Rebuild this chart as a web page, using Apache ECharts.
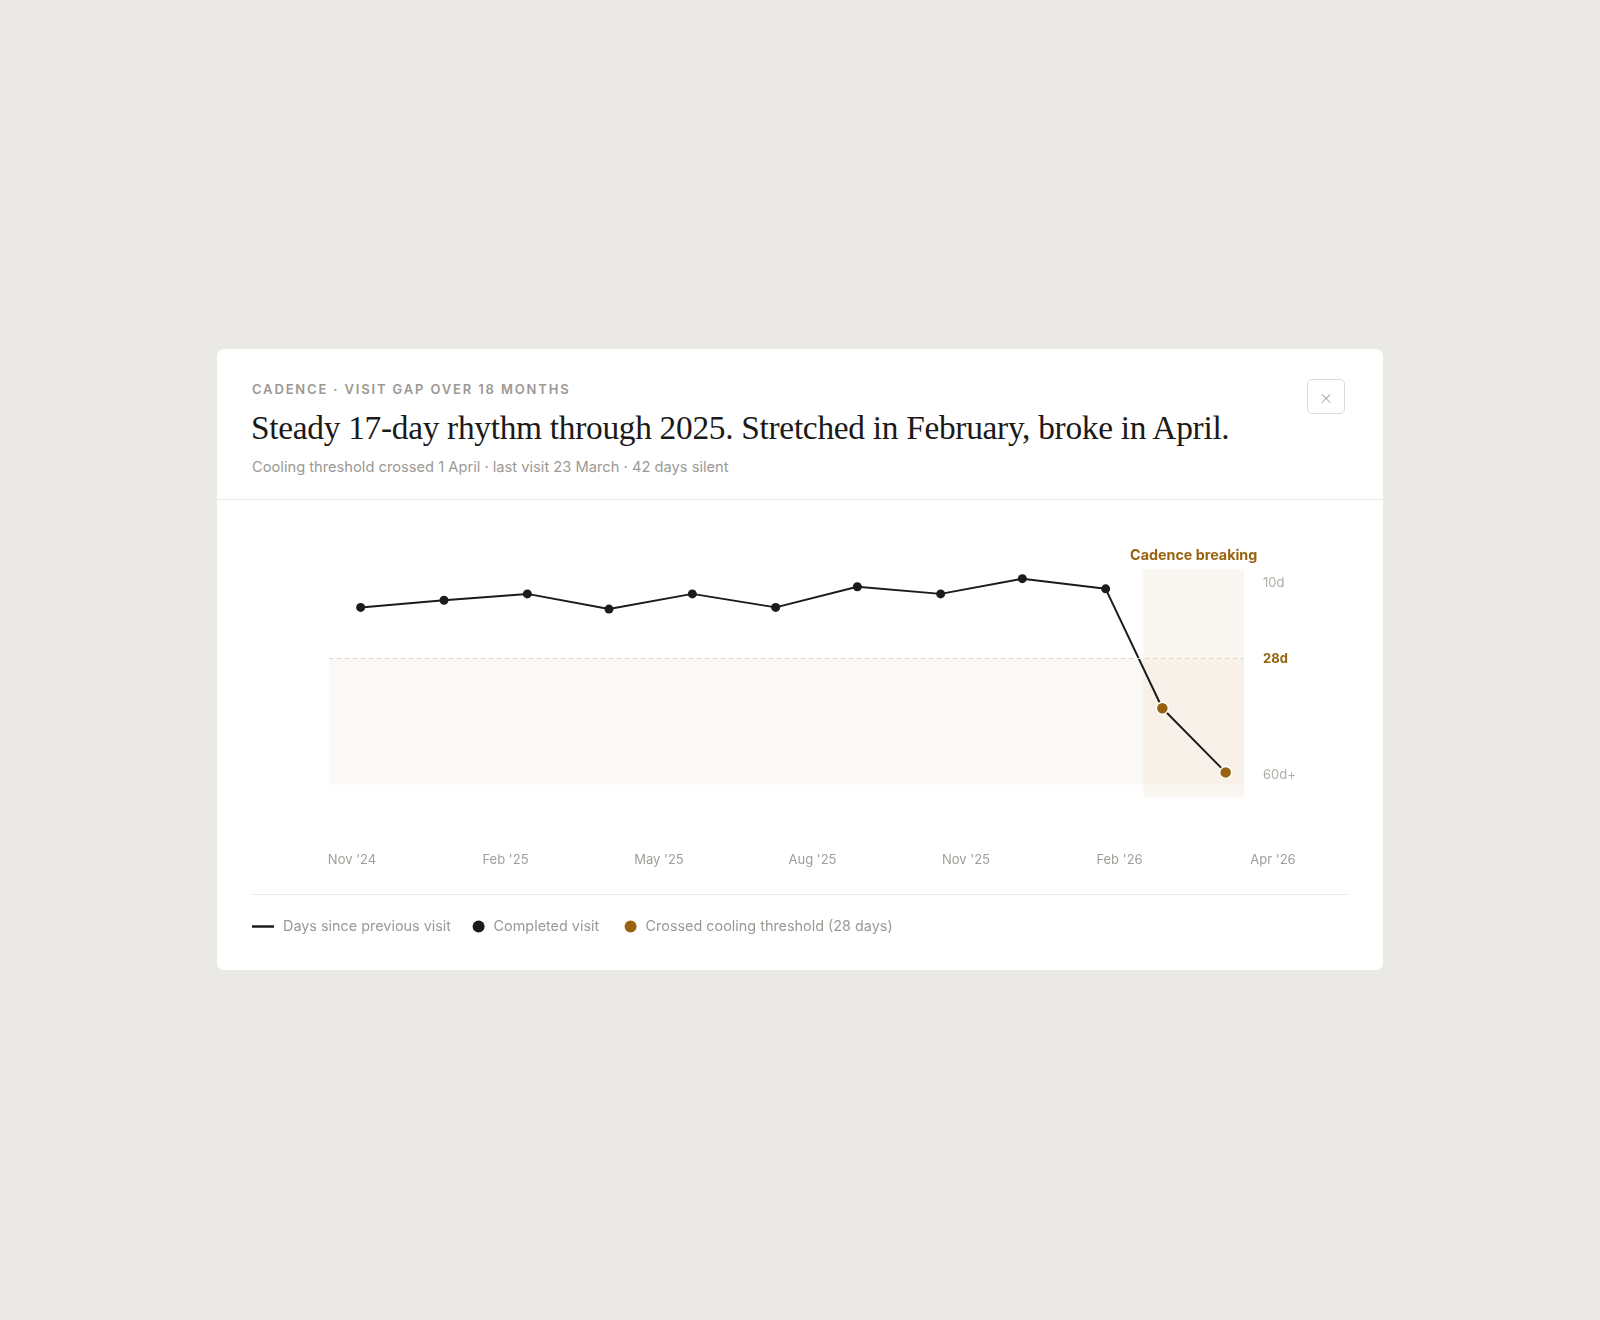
<!DOCTYPE html>
<html>
<head>
<meta charset="utf-8">
<script src="https://cdn.jsdelivr.net/npm/echarts@6/dist/echarts.min.js"></script>
<style>
html,body{margin:0;padding:0;background:#ebe9e6;width:1600px;height:1320px;overflow:hidden;font-family:Inter,'Noto Sans',sans-serif;}
.card{position:absolute;left:217px;top:349px;width:1166px;height:621px;background:#fff;border-radius:7px;}
.eyebrow{position:absolute;left:252px;top:381px;font-size:13px;line-height:16px;font-weight:600;letter-spacing:1.85px;color:#9c9994;white-space:nowrap;}
.title{position:absolute;left:251px;top:408px;font-family:'Liberation Serif',serif;font-size:33.4px;line-height:40px;color:#1b1a18;white-space:nowrap;letter-spacing:-0.3px;}
.sub{position:absolute;left:252px;top:456.5px;font-size:14.7px;line-height:20px;color:#9c9994;white-space:nowrap;}
.hr1{position:absolute;left:217px;top:499px;width:1166px;height:1px;background:#e9e7e3;}
.hr2{position:absolute;left:252px;top:894px;width:1096px;height:1px;background:#ebe9e5;}
.close{position:absolute;left:1307px;top:379px;width:36px;height:33px;border:1px solid #dfdcd7;border-radius:5px;color:#a9a6a1;font-size:21px;line-height:33px;text-align:center;font-weight:200;}
#chart{position:absolute;left:0;top:0;width:1600px;height:1320px;}
</style>
</head>
<body>
<div class="card"></div>
<div class="eyebrow">CADENCE · VISIT GAP OVER 18 MONTHS</div>
<div class="title">Steady 17-day rhythm through 2025. Stretched in February, broke in April.</div>
<div class="sub">Cooling threshold crossed 1 April · last visit 23 March · 42 days silent</div>
<div class="close">×</div>
<div class="hr1"></div>
<div class="hr2"></div>
<div id="chart"></div>
<script>
// ---- data ----
const visitDay = [19, 69, 119, 168, 218, 268, 317, 367, 416, 466, 500, 538];
const gapDays = [16, 14.3, 12.8, 16.4, 12.8, 16, 11.1, 12.8, 9.2, 11.6, 39.9, 55.1];
const thresholdDays = 28;
const xTickLabels = ["Nov '24", "Feb '25", "May '25", "Aug '25", "Nov '25", "Feb '26", "Apr '26"];
const yTickValues = [10, 28, 55.5];
const yTickLabels = ['10d', '28d', '60d+'];
const axisStartDay = 0;
const axisEndDay = 549;
const breakStartDay = 488.6;
const bandBottomDays = 58;
const yMin = 7, yMax = 61;

const INK = '#1c1b19';
const GOLD = '#98620f';
const MUTED = '#a19e99';
const FONT = 'Inter';

const linePts = visitDay.map((d, i) => [d, gapDays[i]]);
const okPts = linePts.filter(p => p[1] <= thresholdDays);
const crossedPts = linePts.filter(p => p[1] > thresholdDays);

const chart = echarts.init(document.getElementById('chart'), null, {renderer: 'canvas'});
const legendText = {color: '#9c9994', fontSize: 14.4, fontFamily: FONT, padding: [0, 0, 0, 4]};
const legendBase = {selectedMode: false, padding: 0, textStyle: legendText, itemStyle: {borderWidth: 0, opacity: 1}};
chart.setOption({
  animation: false,
  grid: [
    {left: 329, right: 356, top: 569.4, bottom: 522.7, outerBoundsMode: 'none', containLabel: false},
    {left: 352, right: 327, top: 800, bottom: 475, outerBoundsMode: 'none', containLabel: false}
  ],
  xAxis: [
    {type: 'value', gridIndex: 0, min: axisStartDay, max: axisEndDay,
     axisLine: {show: false}, axisTick: {show: false}, axisLabel: {show: false}, splitLine: {show: false}},
    {type: 'category', gridIndex: 1, data: xTickLabels, boundaryGap: false,
     axisLine: {show: false}, axisTick: {show: false}, splitLine: {show: false},
     axisLabel: {interval: 0, color: MUTED, fontSize: 13, fontFamily: FONT, margin: 9}}
  ],
  yAxis: [
    {type: 'value', gridIndex: 0, inverse: true, min: yMin, max: yMax, position: 'right',
     axisLine: {show: false}, axisTick: {show: false}, splitLine: {show: false},
     axisLabel: {
       customValues: yTickValues, margin: 19, color: '#b1ada7', fontSize: 13, fontFamily: FONT,
       padding: [2, 0, 0, 0],
       formatter: function (v) {
         const i = yTickValues.indexOf(v);
         if (i < 0) return '';
         return v === thresholdDays ? '{thr|' + yTickLabels[i] + '}' : yTickLabels[i];
       },
       rich: {thr: {color: GOLD, fontWeight: 700, fontSize: 13, fontFamily: FONT}}
     }},
    {type: 'value', gridIndex: 1, show: false}
  ],
  legend: [
    Object.assign({data: [{name: 'Days since previous visit', icon: 'rect'}], left: 252, top: 919.5, itemWidth: 22, itemHeight: 2.5}, legendBase),
    Object.assign({data: [{name: 'Completed visit', icon: 'circle'}], left: 472.6, top: 919.5, itemWidth: 12, itemHeight: 12}, legendBase),
    Object.assign({data: [{name: 'Crossed cooling threshold (28 days)', icon: 'circle'}], left: 624.6, top: 919.5, itemWidth: 12, itemHeight: 12}, legendBase)
  ],
  series: [
    {
      name: 'Days since previous visit', type: 'line', xAxisIndex: 0, yAxisIndex: 0,
      data: linePts, symbol: 'none', z: 3, color: INK,
      lineStyle: {color: INK, width: 2},
      markLine: {
        silent: true, symbol: ['none', 'none'], label: {show: false},
        lineStyle: {type: [4, 4], color: '#e2d6bf', width: 1},
        data: [{yAxis: thresholdDays}]
      },
      markArea: {
        silent: true,
        data: [
          [{yAxis: thresholdDays, itemStyle: {color: 'rgba(215,195,160,0.10)'}, label: {show: false}}, {yAxis: bandBottomDays}],
          [{xAxis: breakStartDay, name: 'Cadence breaking', itemStyle: {color: 'rgba(215,185,140,0.12)'},
            label: {show: true, position: 'top', distance: 7, color: GOLD, fontWeight: 700, fontSize: 14.3, fontFamily: FONT}},
           {xAxis: axisEndDay}]
        ]
      }
    },
    {
      name: 'Completed visit', type: 'scatter', xAxisIndex: 0, yAxisIndex: 0,
      data: okPts, symbol: 'circle', symbolSize: 9, z: 4,
      itemStyle: {color: INK, opacity: 1}
    },
    {
      name: 'Crossed cooling threshold (28 days)', type: 'scatter', xAxisIndex: 0, yAxisIndex: 0,
      data: crossedPts, symbol: 'circle', symbolSize: 12, z: 5,
      itemStyle: {color: GOLD, borderColor: '#fff', borderWidth: 1.5, opacity: 1}
    }
  ]
});
</script>
</body>
</html>
